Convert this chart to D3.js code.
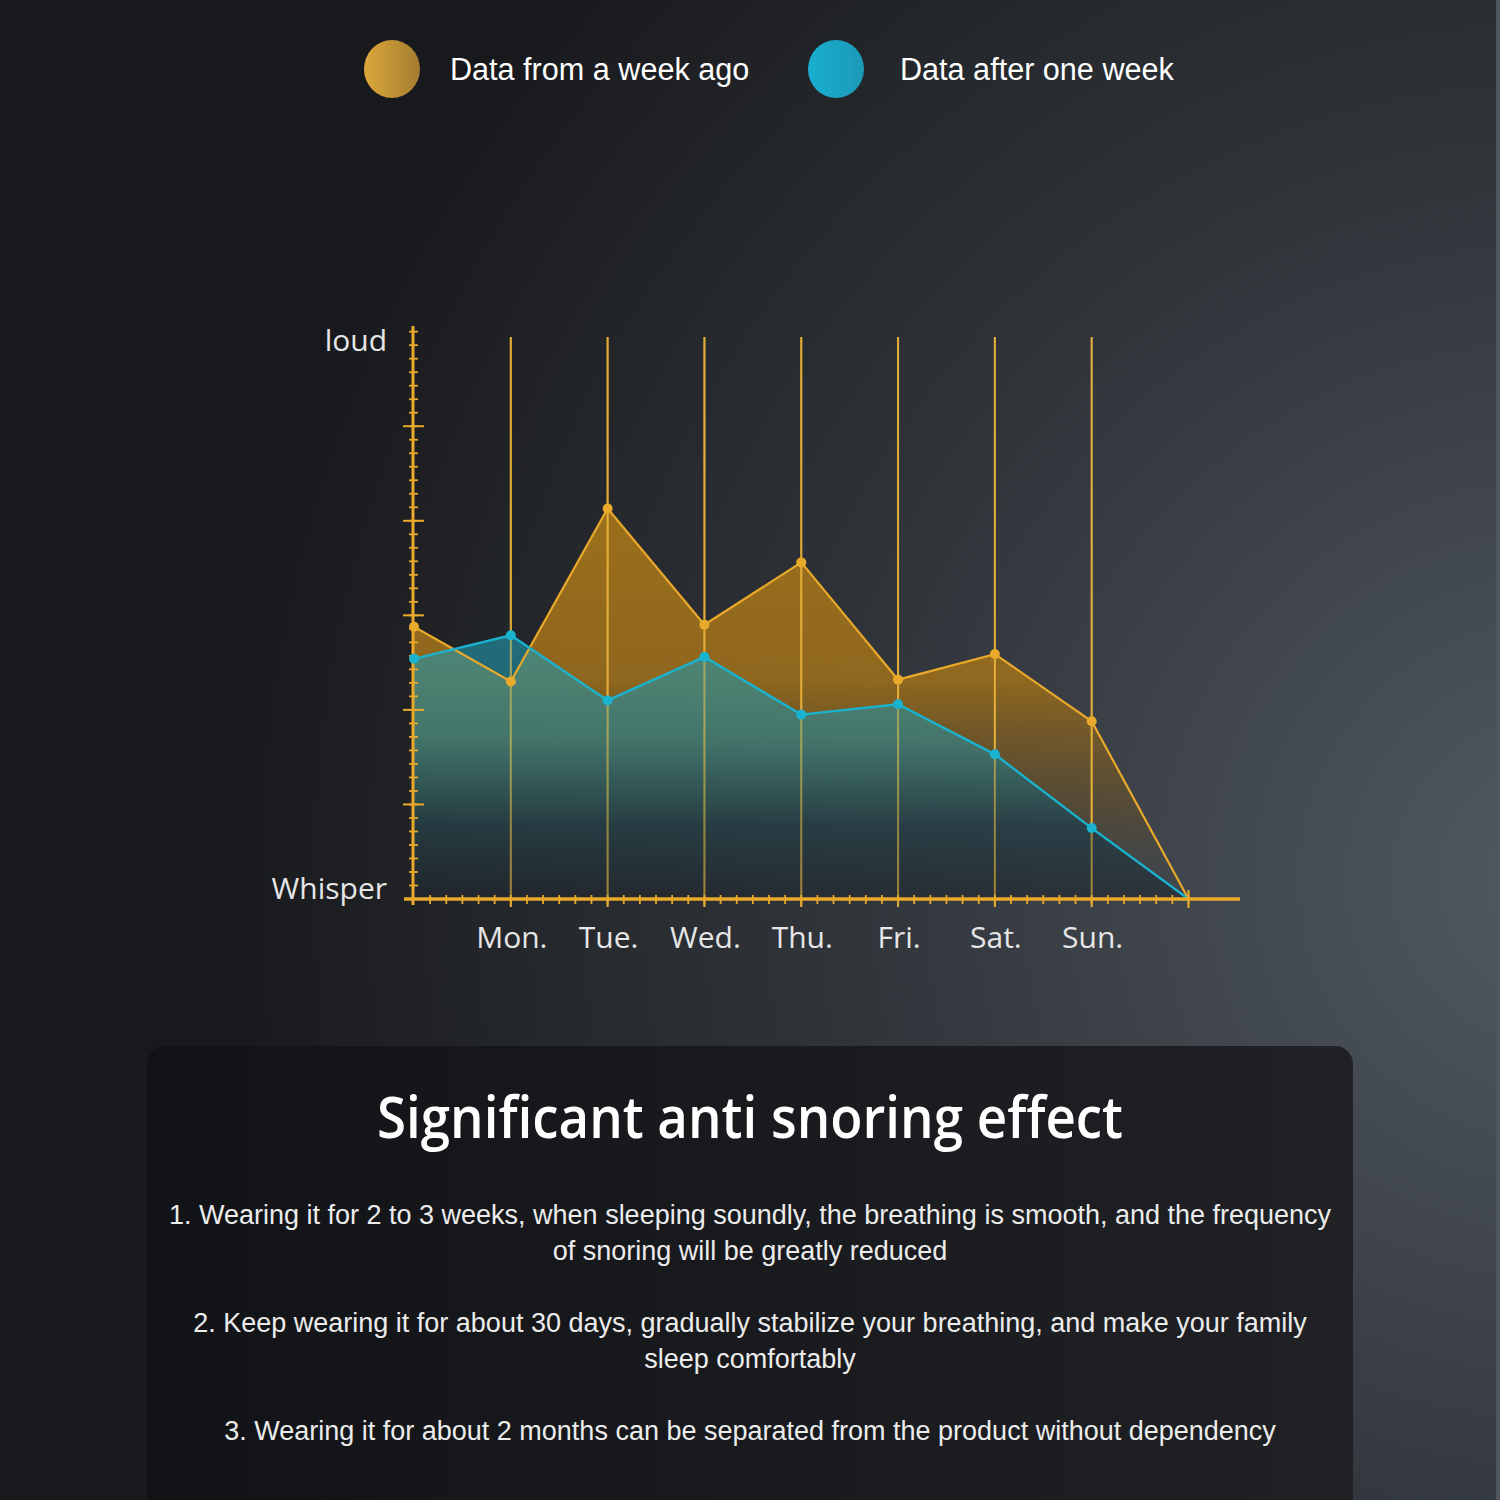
<!DOCTYPE html>
<html>
<head>
<meta charset="utf-8">
<script src="https://cdn.jsdelivr.net/npm/d3@7"></script>
<style>
html,body{margin:0;padding:0;background:#1b1d20;}
svg{display:block;}
</style>
</head>
<body>
<svg id="chart" width="1500" height="1500"></svg>
<script>
// ---------- DATA ----------
const days = ["Mon.", "Tue.", "Wed.", "Thu.", "Fri.", "Sat.", "Sun."];
// positions along x: 0 = y-axis, 1..7 = Mon..Sun, 8 = end point
const positions = [0, 1, 2, 3, 4, 5, 6, 7, 8];
const weekAgo   = [2.88, 2.30, 4.13, 2.90, 3.56, 2.32, 2.59, 1.88, 0];
const afterWeek = [2.54, 2.79, 2.10, 2.56, 1.95, 2.06, 1.53, 0.75, 0];
const seriesNames = ["Data from a week ago", "Data after one week"];
const yLabels = ["loud", "Whisper"];
const title = "Significant anti snoring effect";
const bodyLines = [
  ["1. Wearing it for 2 to 3 weeks, when sleeping soundly, the breathing is smooth, and the frequency",
   "of snoring will be greatly reduced"],
  ["2. Keep wearing it for about 30 days, gradually stabilize your breathing, and make your family",
   "sleep comfortably"],
  ["3. Wearing it for about 2 months can be separated from the product without dependency"]
];

// ---------- SETUP ----------
const svg = d3.select("#chart");
const W = 1500, H = 1500;
const defs = svg.append("defs");

const gold = "#e9a92a";
const cyan = "#19b3d0";

// background
const bg = defs.append("radialGradient").attr("id", "bg")
  .attr("gradientUnits", "userSpaceOnUse")
  .attr("cx", 1560).attr("cy", 880).attr("r", 1350);
bg.append("stop").attr("offset", 0).attr("stop-color", "#525961");
bg.append("stop").attr("offset", 0.45).attr("stop-color", "#353a40");
bg.append("stop").attr("offset", 1).attr("stop-color", "#18191c");
svg.append("rect").attr("width", W).attr("height", H).attr("fill", "url(#bg)");
svg.append("rect").attr("x", 1496).attr("y", 0).attr("width", 4).attr("height", H).attr("fill", "#4f555c");

// scales
const x = d3.scaleLinear().domain([0, 8]).range([414, 1188.5]);
const y = d3.scaleLinear().domain([0, 6.06]).range([899, 326]);

// ---------- LEGEND ----------
const lg1 = defs.append("linearGradient").attr("id", "lg1").attr("x1", 0).attr("x2", 1).attr("y1", 0).attr("y2", 0);
lg1.append("stop").attr("offset", 0).attr("stop-color", "#dca73c");
lg1.append("stop").attr("offset", 1).attr("stop-color", "#a27d2e");
const lg2 = defs.append("linearGradient").attr("id", "lg2").attr("x1", 0).attr("x2", 1).attr("y1", 0).attr("y2", 0);
lg2.append("stop").attr("offset", 0).attr("stop-color", "#1aaed0");
lg2.append("stop").attr("offset", 1).attr("stop-color", "#1b9ab6");
const legendItems = [
  {cx: 392, tx: 450, fill: "url(#lg1)", name: seriesNames[0]},
  {cx: 836, tx: 900, fill: "url(#lg2)", name: seriesNames[1]}
];
const leg = svg.append("g");
leg.selectAll("ellipse").data(legendItems).join("ellipse")
  .attr("cx", d => d.cx).attr("cy", 69).attr("rx", 28).attr("ry", 29)
  .attr("fill", d => d.fill);
leg.selectAll("text").data(legendItems).join("text")
  .attr("x", d => d.tx).attr("y", 80)
  .attr("font-family", "'Liberation Sans', Arial, sans-serif")
  .attr("font-size", 30.6).attr("fill", "#ffffff")
  .text(d => d.name);

// ---------- AREA GRADIENTS ----------
const ga = defs.append("linearGradient").attr("id", "goldArea")
  .attr("gradientUnits", "userSpaceOnUse").attr("x1", 0).attr("x2", 0).attr("y1", 500).attr("y2", 899);
ga.append("stop").attr("offset", 0).attr("stop-color", "#a2741a").attr("stop-opacity", 0.95);
ga.append("stop").attr("offset", 0.45).attr("stop-color", "#9a6d1c").attr("stop-opacity", 0.9);
ga.append("stop").attr("offset", 0.78).attr("stop-color", "#6e5424").attr("stop-opacity", 0.45);
ga.append("stop").attr("offset", 1).attr("stop-color", "#4a4a48").attr("stop-opacity", 0.0);

const ba = defs.append("linearGradient").attr("id", "blueArea")
  .attr("gradientUnits", "userSpaceOnUse").attr("x1", 0).attr("x2", 0).attr("y1", 630).attr("y2", 899);
ba.append("stop").attr("offset", 0).attr("stop-color", "#1e98b2").attr("stop-opacity", 0.62);
ba.append("stop").attr("offset", 0.4).attr("stop-color", "#2a8c98").attr("stop-opacity", 0.6);
ba.append("stop").attr("offset", 0.72).attr("stop-color", "#1c3e4c").attr("stop-opacity", 0.7);
ba.append("stop").attr("offset", 1).attr("stop-color", "#20262d").attr("stop-opacity", 0.6);

const area = d3.area().x((d, i) => x(positions[i])).y0(y(0)).y1(d => y(d));
const line = d3.line().x((d, i) => x(positions[i])).y(d => y(d));

const plot = svg.append("g");

// gold area
plot.append("path").datum(weekAgo).attr("d", area).attr("fill", "url(#goldArea)");

// vertical gridlines at days
const gridX = days.map((d, i) => i + 1);
plot.selectAll("line.grid").data(gridX).join("line").attr("class", "grid")
  .attr("x1", d => x(d)).attr("x2", d => x(d))
  .attr("y1", 337).attr("y2", 907)
  .attr("stroke", gold).attr("stroke-width", 2);

// blue area on top
plot.append("path").datum(afterWeek).attr("d", area).attr("fill", "url(#blueArea)");

// faint gridlines over the blue area
plot.selectAll("line.grid2").data(gridX).join("line").attr("class", "grid2")
  .attr("x1", d => x(d)).attr("x2", d => x(d))
  .attr("y1", 337).attr("y2", 907)
  .attr("stroke", "#d8b24a").attr("stroke-opacity", 0.45).attr("stroke-width", 2);

// lines
plot.append("path").datum(weekAgo).attr("d", line).attr("fill", "none")
  .attr("stroke", gold).attr("stroke-width", 2.2);
plot.append("path").datum(afterWeek).attr("d", line).attr("fill", "none")
  .attr("stroke", cyan).attr("stroke-width", 2.4);

// ---------- AXES ----------
const axisG = svg.append("g");
const yMinor = d3.range(0, 6.06, 1 / 7).filter(v => v > 0.01);
const yMajor = [1, 2, 3, 4, 5];
axisG.append("line").attr("x1", 413).attr("x2", 413).attr("y1", y(6.06)).attr("y2", 905)
  .attr("stroke", gold).attr("stroke-width", 3);
axisG.selectAll("line.ymin").data(yMinor).join("line").attr("class", "ymin")
  .attr("x1", 409).attr("x2", 418).attr("y1", d => y(d)).attr("y2", d => y(d))
  .attr("stroke", gold).attr("stroke-width", 1.8);
axisG.selectAll("line.ymaj").data(yMajor).join("line").attr("class", "ymaj")
  .attr("x1", 403).attr("x2", 424).attr("y1", d => y(d)).attr("y2", d => y(d))
  .attr("stroke", gold).attr("stroke-width", 2);

const xMinor = d3.range(1 / 6, 8.01, 1 / 6);
axisG.append("line").attr("x1", 404).attr("x2", 1240).attr("y1", 899).attr("y2", 899)
  .attr("stroke", gold).attr("stroke-width", 3.5);
axisG.selectAll("line.xmin").data(xMinor).join("line").attr("class", "xmin")
  .attr("x1", d => x(d)).attr("x2", d => x(d)).attr("y1", 895).attr("y2", 904)
  .attr("stroke", gold).attr("stroke-width", 1.8);
axisG.append("line").attr("x1", x(8)).attr("x2", x(8)).attr("y1", 890).attr("y2", 908)
  .attr("stroke", gold).attr("stroke-width", 2.2);

// points
const pts = svg.append("g");
pts.selectAll("circle.g").data(weekAgo.slice(0, 8)).join("circle").attr("class", "g")
  .attr("cx", (d, i) => x(positions[i])).attr("cy", d => y(d)).attr("r", 5).attr("fill", gold);
pts.selectAll("circle.b").data(afterWeek.slice(0, 8)).join("circle").attr("class", "b")
  .attr("cx", (d, i) => x(positions[i])).attr("cy", d => y(d)).attr("r", 5).attr("fill", cyan);

// labels
const lblFont = "'Open Sans', 'Noto Sans', sans-serif";
svg.append("text").attr("x", 387).attr("y", 351).attr("text-anchor", "end")
  .attr("font-family", lblFont).attr("font-size", 30).attr("fill", "#e6e6e6").text(yLabels[0]);
svg.append("text").attr("x", 387).attr("y", 899).attr("text-anchor", "end")
  .attr("font-family", lblFont).attr("font-size", 30).attr("fill", "#e6e6e6").text(yLabels[1]);
svg.selectAll("text.day").data(days).join("text").attr("class", "day")
  .attr("x", (d, i) => x(i + 1) + 1).attr("y", 948).attr("text-anchor", "middle")
  .attr("font-family", lblFont).attr("font-size", 30).attr("fill", "#e6e6e6").text(d => d);

// ---------- BOTTOM PANEL ----------
const pg = defs.append("linearGradient").attr("id", "panel").attr("x1", 0).attr("x2", 1).attr("y1", 0).attr("y2", 0);
pg.append("stop").attr("offset", 0).attr("stop-color", "#121316");
pg.append("stop").attr("offset", 1).attr("stop-color", "#1f2125");
svg.append("rect").attr("x", 147).attr("y", 1046).attr("width", 1206).attr("height", 500)
  .attr("rx", 18).attr("fill", "url(#panel)");

svg.append("text").attr("x", 750).attr("y", 1138).attr("text-anchor", "middle")
  .attr("font-family", lblFont).attr("font-weight", 600).attr("font-size", 58)
  .attr("fill", "#ffffff").attr("textLength", 746).attr("lengthAdjust", "spacingAndGlyphs")
  .text(title);

const bodyStart = [1224, 1332, 1440];
bodyLines.forEach((lines, k) => {
  lines.forEach((t, j) => {
    svg.append("text").attr("x", 750).attr("y", bodyStart[k] + j * 36).attr("text-anchor", "middle")
      .attr("font-family", "'Liberation Sans', Arial, sans-serif").attr("font-size", 27)
      .attr("fill", "#ececec").text(t);
  });
});
</script>
</body>
</html>
